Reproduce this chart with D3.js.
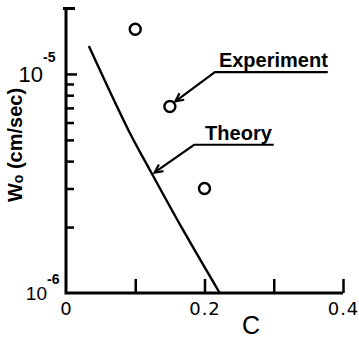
<!DOCTYPE html>
<html>
<head>
<meta charset="utf-8">
<script src="https://cdn.jsdelivr.net/npm/d3@7"></script>
<style>
  body { margin: 0; background: #fff; }
  svg { display: block; font-family: "Liberation Sans", Arial, sans-serif; }
</style>
</head>
<body>
<div id="chart"></div>
<script>
// Size of the picture
const width = 359;
const height = 339;

// Experiment points (C, W0 in cm/sec)
const expC = [0.1, 0.15, 0.2];
const expW = [1.6e-5, 7.1e-6, 3.0e-6];

// Theory curve
const theoryC = [0.033, 0.090, 0.121, 0.169, 0.222];
const theoryW = [1.34e-5, 5.55e-6, 3.65e-6, 1.94e-6, 1.0e-6];

// Axis ticks
const xTicks = [0.1, 0.2, 0.3, 0.4];
const xLabelTicks = [0, 0.2, 0.4];
const yTicks = [2e-6, 3e-6, 4e-6, 5e-6, 6e-6, 7e-6, 8e-6, 9e-6, 1e-5, 2e-5];

// Annotation anchors in data units: [underline end C, underline start C, W at underline, tip C, tip W]
const annoLabels = ["Experiment", "Theory"];
const annoLine = [
    [0.378, 0.215, 1.02e-5, 0.158, 7.5e-6],
    [0.300, 0.185, 4.75e-6, 0.128, 3.55e-6]
];

const x = d3.scaleLinear().domain([0, 0.4]).range([66, 343]);
const y = d3.scaleLog().domain([1e-6, 2e-5]).range([293, 8]);

const svg = d3.select("#chart").append("svg")
    .attr("width", width)
    .attr("height", height)
    .attr("viewBox", `0 0 ${width} ${height}`);

// arrow head marker
svg.append("defs").append("marker")
    .attr("id", "arrow")
    .attr("viewBox", "-10 -6 12 12")
    .attr("refX", 0)
    .attr("refY", 0)
    .attr("markerWidth", 12)
    .attr("markerHeight", 12)
    .attr("markerUnits", "userSpaceOnUse")
    .attr("orient", "auto")
    .append("path")
    .attr("d", "M-8,-4 L0,0 L-8,4")
    .attr("fill", "none")
    .attr("stroke", "#000")
    .attr("stroke-width", 2.2);

// x axis: inward ticks, no labels
const gx = svg.append("g")
    .attr("class", "xaxis")
    .attr("transform", `translate(0,${y(1e-6)})`)
    .call(d3.axisTop(x)
        .tickValues(xTicks)
        .tickSize(14)
        .tickSizeOuter(0)
        .tickFormat(""));
gx.select(".domain").remove();
gx.selectAll(".tick line").attr("stroke", "#000").attr("stroke-width", 2.5);

// x tick labels
svg.append("g")
    .attr("transform", `translate(0,${y(1e-6)})`)
    .call(d3.axisBottom(x)
        .tickValues(xLabelTicks)
        .tickSize(0)
        .tickPadding(9)
        .tickFormat(d => d === 0 ? "0" : d3.format(".1f")(d)))
    .call(g => g.select(".domain").remove())
    .selectAll(".tick text")
    .attr("font-family", "'DejaVu Sans', sans-serif")
    .attr("font-size", 18)
    .attr("letter-spacing", 1)
    .attr("fill", "#000");

// y axis: inward ticks
const tickLen = d => d === 1e-5 ? 11 : (d === 2e-5 ? 9 : 8);
const gy = svg.append("g")
    .attr("class", "yaxis")
    .attr("transform", `translate(${x(0)},0)`)
    .call(d3.axisRight(y)
        .tickValues(yTicks)
        .tickSize(8)
        .tickSizeOuter(0)
        .tickFormat(""));
gy.select(".domain").remove();
gy.selectAll(".tick line")
    .attr("stroke", "#000")
    .attr("stroke-width", d => d === 2e-5 ? 3 : 2.5)
    .attr("x1", d => d === 2e-5 ? -3 : 0)
    .attr("x2", d => tickLen(d));

// axis lines
svg.append("path")
    .attr("d", `M${x(0)},${y(2e-5)}V${y(1e-6)}H${x(0.4)}`)
    .attr("fill", "none")
    .attr("stroke", "#000")
    .attr("stroke-width", 3);

// y tick labels 10^-5, 10^-6
const yLab = [
    { v: 1e-5, exp: "-5", size: 22, dx: 0, dy: 8, sy: -12 },
    { v: 1e-6, exp: "-6", size: 19, dx: 4, dy: 7, sy: -9 }
];
yLab.forEach(l => {
    svg.append("text")
        .attr("x", x(0) - 23 + l.dx)
        .attr("y", y(l.v) + l.dy)
        .attr("text-anchor", "end")
        .attr("font-size", l.size)
        .text("10");
    svg.append("text")
        .attr("x", x(0) - 23 + l.dx)
        .attr("y", y(l.v) + l.sy)
        .attr("font-size", 14)
        .attr("font-weight", "bold")
        .text(l.exp);
});

// axis titles
svg.append("text")
    .attr("x", 251)
    .attr("y", 334)
    .attr("text-anchor", "middle")
    .attr("font-size", 25)
    .text("C");

const yt = svg.append("text")
    .attr("transform", "translate(22,145) rotate(-90)")
    .attr("text-anchor", "middle")
    .attr("font-size", 20)
    .attr("font-weight", "bold");
yt.append("tspan").text("W");
yt.append("tspan").attr("font-size", 14).attr("dy", 1).text("o");
yt.append("tspan").attr("dy", -1).text(" (cm/sec)");

// theory line
const line = d3.line()
    .x(i => x(theoryC[i]))
    .y(i => y(theoryW[i]))
    .curve(d3.curveCatmullRom);
svg.append("path")
    .datum(d3.range(theoryC.length))
    .attr("fill", "none")
    .attr("stroke", "#000")
    .attr("stroke-width", 2.4)
    .attr("d", line);

// experiment circles
svg.selectAll("circle.exp")
    .data(d3.range(expC.length))
    .enter()
    .append("circle")
    .attr("class", "exp")
    .attr("cx", i => x(expC[i]))
    .attr("cy", i => y(expW[i]))
    .attr("r", 5.5)
    .attr("fill", "none")
    .attr("stroke", "#000")
    .attr("stroke-width", 2.4);

// annotations with leader lines
annoLabels.forEach((lab, i) => {
    const a = annoLine[i];
    svg.append("path")
        .attr("d", `M${x(a[0])},${y(a[2])} L${x(a[1])},${y(a[2])} L${x(a[3])},${y(a[4])}`)
        .attr("fill", "none")
        .attr("stroke", "#000")
        .attr("stroke-width", 2.2)
        .attr("marker-end", "url(#arrow)");
    svg.append("text")
        .attr("x", x(a[1]) + (i === 0 ? 4 : 11))
        .attr("y", y(a[2]) - 5)
        .attr("font-size", 20)
        .attr("font-weight", "bold")
        .text(lab);
});
</script>
</body>
</html>
